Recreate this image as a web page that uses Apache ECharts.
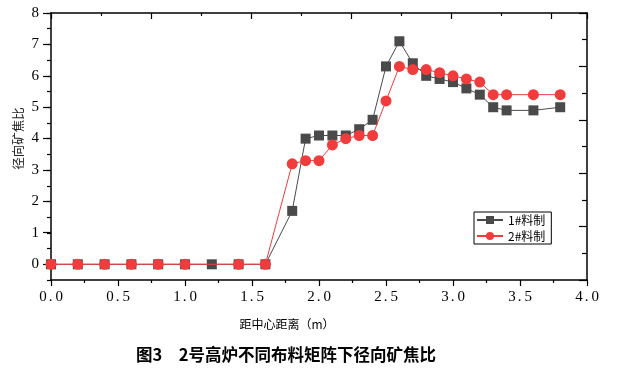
<!DOCTYPE html>
<html><head><meta charset="utf-8">
<script src="https://cdn.jsdelivr.net/npm/echarts@6/dist/echarts.min.js"></script>
<style>html,body{margin:0;padding:0;background:#fff}#c{width:625px;height:368px}</style>
</head><body><div id="c"></div>
<script>
var seriesNames = ['1#料制', '2#料制'];
var x1 = [0,0.2,0.4,0.6,0.8,1.0,1.2,1.4,1.6,1.8,1.9,2.0,2.1,2.2,2.3,2.4,2.5,2.6,2.7,2.8,2.9,3.0,3.1,3.2,3.3,3.4,3.6,3.8];
var y1 = [0,0,0,0,0,0,0,0,0,1.7,4.0,4.1,4.1,4.1,4.3,4.6,6.3,7.1,6.4,6.0,5.9,5.8,5.6,5.4,5.0,4.9,4.9,5.0];
var x2 = [0,0.2,0.4,0.6,0.8,1.0,1.4,1.6,1.8,1.9,2.0,2.1,2.2,2.3,2.4,2.5,2.6,2.7,2.8,2.9,3.0,3.1,3.2,3.3,3.4,3.6,3.8];
var y2 = [0,0,0,0,0,0,0,0,3.2,3.3,3.3,3.8,4.0,4.1,4.1,5.2,6.3,6.2,6.2,6.1,6.0,5.9,5.8,5.4,5.4,5.4,5.4];
var xTicks = ['0.0','0.5','1.0','1.5','2.0','2.5','3.0','3.5','4.0'];
var yTicks = ['0','1','2','3','4','5','6','7','8'];
var xName = '距中心距离（m）';
var yName = '径向矿焦比';
var title = '图3　2号高炉不同布料矩阵下径向矿焦比';

function zip(a, b) { return a.map(function (v, i) { return [v, b[i]]; }); }

var chart = echarts.init(document.getElementById('c'));
var serif = '"Liberation Serif","DejaVu Serif",serif';
var cjk = '"Noto Sans CJK SC",sans-serif';
var blk = { color: '#000', width: 1.2 };
chart.setOption({
  animation: false,
  title: {
    text: title, left: 281, top: 341, textAlign: 'center',
    textStyle: { fontFamily: cjk, fontSize: 16.5, fontWeight: 'bold', color: '#000' }
  },
  legend: {
    orient: 'vertical', left: 474, top: 212,
    data: seriesNames,
    itemWidth: 26, itemHeight: 10, itemGap: 4,
    borderColor: '#000', borderWidth: 1, padding: [2, 6, 2, 2],
    textStyle: { fontFamily: cjk, fontSize: 12, color: '#000' }
  },
  grid: [
    { left: 51, right: 38, top: 13, bottom: 88 },
    { left: 51, right: 38, top: 13, bottom: 104 }
  ],
  xAxis: [
    {
      type: 'value', gridIndex: 0, min: 0, max: 4, interval: 0.5,
      name: xName, nameLocation: 'middle', nameGap: 38,
      nameTextStyle: { fontFamily: cjk, fontSize: 12, color: '#000', padding: [0, 64, 0, 0] },
      axisLine: { onZero: false, lineStyle: { color: '#000', width: 1.5 } },
      axisTick: { show: true, inside: false, length: 6, lineStyle: blk },
      minorTick: { show: true, splitNumber: 2, length: 3, lineStyle: blk },
      axisLabel: { margin: 10, fontFamily: serif, fontSize: 15, color: '#000',
        formatter: function (v) {
          var s = xTicks[Math.round(v / 0.5)] || '';
          var p = s.split('.');
          return p.length === 2 ? '{n|' + p[0] + '}{p|.}{n|' + p[1] + '}' : s;
        },
        rich: {
          n: { fontFamily: serif, fontSize: 15, color: '#000' },
          p: { fontFamily: serif, fontSize: 15, color: '#000', padding: [0, 3, 0, 2] }
        }
      },
      splitLine: { show: false }
    },
    {
      type: 'value', gridIndex: 0, position: 'top', min: 0, max: 10.72, interval: 2,
      axisLine: { onZero: false, lineStyle: { color: '#000', width: 1.5 } },
      axisTick: { show: true, inside: true, length: 6, lineStyle: blk },
      minorTick: { show: true, splitNumber: 2, length: 3, lineStyle: blk },
      axisLabel: { show: false }, splitLine: { show: false }
    },
    {
      type: 'value', gridIndex: 1, min: 0, max: 4, show: false
    }
  ],
  yAxis: [
    {
      type: 'value', gridIndex: 0, min: -0.5, max: 8, interval: 0.5,
      axisLine: { onZero: false, lineStyle: { color: '#000', width: 1.5 } },
      axisTick: { show: true, inside: false, length: 4, lineStyle: blk },
      axisLabel: { show: false }, splitLine: { show: false }
    },
    {
      type: 'value', gridIndex: 0, position: 'right', min: 0, max: 10, interval: 2,
      axisLine: { onZero: false, lineStyle: { color: '#000', width: 1.5 } },
      axisTick: { show: true, inside: true, length: 8, lineStyle: blk },
      minorTick: { show: true, splitNumber: 2, length: 5, lineStyle: blk },
      axisLabel: { show: false }, splitLine: { show: false }
    },
    {
      type: 'value', gridIndex: 1, min: 0, max: 8, interval: 1,
      name: yName, nameLocation: 'middle', nameGap: 26, nameMoveOverlap: false,
      nameTextStyle: { fontFamily: cjk, fontSize: 12.5, color: '#222' },
      axisLine: { show: false, onZero: false },
      axisTick: { show: true, inside: false, length: 8, lineStyle: blk },
      axisLabel: { margin: 12, fontFamily: serif, fontSize: 15, color: '#000',
        formatter: function (v) { return yTicks[Math.round(v)] || ''; } },
      splitLine: { show: false }
    }
  ],
  series: [
    {
      name: seriesNames[0], type: 'line', xAxisIndex: 0, yAxisIndex: 0,
      data: zip(x1, y1), symbol: 'rect', symbolSize: 10,
      itemStyle: { color: '#4a4a4a' }, lineStyle: { color: '#4a4a4a', width: 1 }, z: 3
    },
    {
      name: seriesNames[1], type: 'line', xAxisIndex: 0, yAxisIndex: 0,
      data: zip(x2, y2), symbol: 'circle', symbolSize: 11,
      itemStyle: { color: '#f03c3c' }, lineStyle: { color: '#f03c3c', width: 1 }, z: 4
    }
  ]
});
</script></body></html>
